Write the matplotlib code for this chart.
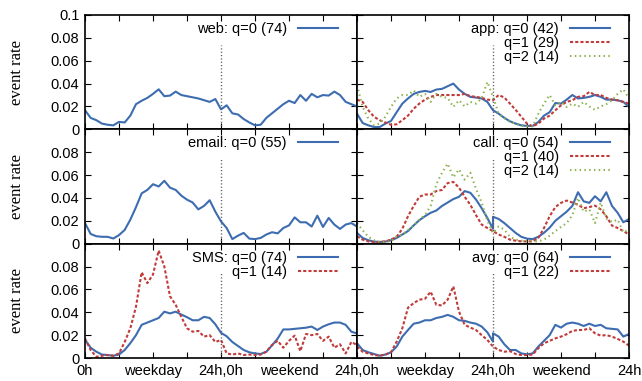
import numpy as np
import matplotlib
matplotlib.use('Agg')
import matplotlib.pyplot as plt

# hours: weekday 0..24, then weekend 24..48 (allows the jump at 24h)
hours = list(range(0, 25)) + list(range(24, 49))

web_q0 = [0.0167, 0.010, 0.008, 0.005, 0.004, 0.0035, 0.0065, 0.006, 0.012, 0.022, 0.025, 0.0275, 0.031,
          0.035, 0.029, 0.0295, 0.033, 0.030, 0.029, 0.028, 0.027, 0.0255, 0.024, 0.0265, 0.0175,
          0.0175, 0.021, 0.014, 0.013, 0.009, 0.006, 0.0035, 0.004, 0.010, 0.014, 0.018, 0.022, 0.025,
          0.023, 0.030, 0.025, 0.031, 0.028, 0.030, 0.0295, 0.033, 0.030, 0.024, 0.022, 0.020]

email_q0 = [0.018, 0.0085, 0.0065, 0.006, 0.006, 0.0045, 0.0075, 0.012, 0.021, 0.032, 0.044, 0.047, 0.052,
            0.050, 0.055, 0.049, 0.047, 0.042, 0.0385, 0.036, 0.030, 0.033, 0.038, 0.028, 0.0195,
            0.0195, 0.0137, 0.004, 0.007, 0.0094, 0.0044, 0.004, 0.005, 0.008, 0.010, 0.009, 0.0137, 0.016,
            0.023, 0.0187, 0.0187, 0.015, 0.0245, 0.0146, 0.0225, 0.0167, 0.0129, 0.0167, 0.018, 0.015]

sms_q0 = [0.016, 0.009, 0.0055, 0.003, 0.0026, 0.002, 0.003, 0.007, 0.013, 0.020, 0.029, 0.031, 0.033,
          0.035, 0.0405, 0.039, 0.0405, 0.038, 0.0357, 0.033, 0.033, 0.036, 0.035, 0.0295, 0.022,
          0.022, 0.019, 0.014, 0.0105, 0.007, 0.005, 0.004, 0.0035, 0.0055, 0.011, 0.017, 0.025, 0.025,
          0.0255, 0.026, 0.0265, 0.0275, 0.0245, 0.0275, 0.0295, 0.031, 0.031, 0.029, 0.023, 0.0215]
sms_q1 = [0.017, 0.007, 0.001, 0.002, 0.0026, 0.002, 0.004, 0.014, 0.026, 0.045, 0.075, 0.0655, 0.073,
          0.094, 0.080, 0.054, 0.0465, 0.036, 0.026, 0.023, 0.0237, 0.0187, 0.020, 0.014, 0.0158,
          0.0158, 0.004, 0.003, 0.004, 0.0026, 0.003, 0.0026, 0.003, 0.0055, 0.0114, 0.015, 0.009, 0.015,
          0.0196, 0.006, 0.021, 0.020, 0.021, 0.015, 0.0187, 0.009, 0.012, 0.004, 0.014, 0.0114]

app_q0 = [0.0137, 0.0055, 0.0035, 0.002, 0.002, 0.005, 0.0073, 0.015, 0.0225, 0.027, 0.031, 0.0327, 0.0336,
          0.0327, 0.0348, 0.0354, 0.0377, 0.040, 0.0348, 0.031, 0.0284, 0.0278, 0.027, 0.024, 0.0167,
          0.0167, 0.0137, 0.010, 0.007, 0.005, 0.0035, 0.003, 0.003, 0.0064, 0.012, 0.015, 0.023, 0.0225,
          0.026, 0.030, 0.027, 0.0275, 0.0284, 0.030, 0.0284, 0.026, 0.026, 0.0254, 0.024, 0.0196]
app_q1 = [0.026, 0.024, 0.0167, 0.011, 0.008, 0.006, 0.004, 0.0044, 0.008, 0.012, 0.018, 0.0225, 0.026,
          0.0284, 0.030, 0.030, 0.030, 0.030, 0.030, 0.031, 0.029, 0.0284, 0.0275, 0.026, 0.0254,
          0.0254, 0.030, 0.0278, 0.0225, 0.017, 0.011, 0.005, 0.0026, 0.005, 0.0094, 0.012, 0.0167, 0.021,
          0.024, 0.0254, 0.0284, 0.029, 0.0327, 0.030, 0.030, 0.0275, 0.026, 0.0254, 0.024, 0.0225]
app_q2 = [0.0386, 0.0196, 0.0094, 0.0035, 0.005, 0.011, 0.0196, 0.027, 0.030, 0.030, 0.034, 0.0284, 0.031,
          0.024, 0.031, 0.0284, 0.0275, 0.0196, 0.0254, 0.020, 0.024, 0.0225, 0.027, 0.0415, 0.0284,
          0.0284, 0.0137, 0.010, 0.0064, 0.005, 0.003, 0.0026, 0.0026, 0.0137, 0.0225, 0.030, 0.021, 0.024,
          0.0196, 0.0225, 0.0196, 0.024, 0.020, 0.017, 0.020, 0.022, 0.0254, 0.031, 0.035, 0.027]

call_q0 = [0.0094, 0.005, 0.003, 0.0018, 0.0015, 0.0018, 0.003, 0.005, 0.008, 0.011, 0.016, 0.0205, 0.024,
           0.027, 0.029, 0.033, 0.036, 0.039, 0.041, 0.046, 0.0445, 0.0386, 0.031, 0.0225, 0.013,
           0.0235, 0.0216, 0.018, 0.0137, 0.0094, 0.006, 0.0044, 0.004, 0.006, 0.0095, 0.014, 0.020, 0.024,
           0.028, 0.033, 0.045, 0.037, 0.0357, 0.0415, 0.037, 0.045, 0.033, 0.027, 0.0187, 0.0216]
call_q1 = [0.0064, 0.0035, 0.002, 0.0015, 0.0015, 0.002, 0.0035, 0.006, 0.013, 0.024, 0.033, 0.041, 0.043,
           0.043, 0.046, 0.047, 0.053, 0.054, 0.049, 0.041, 0.034, 0.025, 0.0167, 0.0137, 0.011,
           0.011, 0.008, 0.006, 0.0035, 0.0026, 0.002, 0.002, 0.002, 0.005, 0.0137, 0.024, 0.032, 0.0357,
           0.0377, 0.036, 0.034, 0.031, 0.032, 0.0333, 0.030, 0.024, 0.0158, 0.0137, 0.011, 0.008]
call_q2 = [0.018, 0.0117, 0.006, 0.003, 0.0015, 0.0015, 0.002, 0.0064, 0.008, 0.012, 0.016, 0.021, 0.025,
           0.033, 0.052, 0.062, 0.070, 0.058, 0.065, 0.056, 0.062, 0.048, 0.036, 0.020, 0.0094,
           0.0094, 0.015, 0.0123, 0.006, 0.0035, 0.0026, 0.002, 0.002, 0.002, 0.0035, 0.007, 0.011, 0.0146,
           0.018, 0.025, 0.040, 0.028, 0.030, 0.018, 0.036, 0.022, 0.019, 0.021, 0.010, 0.012]

avg_q0 = [0.0129, 0.007, 0.005, 0.0035, 0.002, 0.003, 0.005, 0.010, 0.0187, 0.0245, 0.030, 0.031, 0.033,
          0.033, 0.035, 0.036, 0.0377, 0.036, 0.033, 0.0325, 0.031, 0.030, 0.0275, 0.0225, 0.0143,
          0.0216, 0.0187, 0.012, 0.007, 0.007, 0.004, 0.0032, 0.004, 0.010, 0.015, 0.020, 0.029, 0.0266,
          0.030, 0.031, 0.030, 0.028, 0.030, 0.028, 0.029, 0.026, 0.0255, 0.025, 0.0187, 0.021]
avg_q1 = [0.010, 0.0055, 0.004, 0.0026, 0.002, 0.003, 0.005, 0.0143, 0.026, 0.044, 0.048, 0.051, 0.0518,
          0.058, 0.0465, 0.046, 0.051, 0.0626, 0.0406, 0.029, 0.0266, 0.0245, 0.020, 0.0158, 0.010,
          0.010, 0.007, 0.0055, 0.006, 0.0035, 0.0026, 0.0026, 0.003, 0.0085, 0.0129, 0.015, 0.0172, 0.0187,
          0.0208, 0.0237, 0.0245, 0.0245, 0.026, 0.0216, 0.0196, 0.020, 0.0187, 0.0167, 0.0143, 0.0108]

panels = [
    ('web', [web_q0], [74]),
    ('app', [app_q0, app_q1, app_q2], [42, 29, 14]),
    ('email', [email_q0], [55]),
    ('call', [call_q0, call_q1, call_q2], [54, 40, 14]),
    ('SMS', [sms_q0, sms_q1], [74, 14]),
    ('avg', [avg_q0, avg_q1], [64, 22]),
]

colors = ['#3d6db0', '#c23b3b', '#8cb34e']
styles = [dict(linestyle='-'),
          dict(linestyle=(0, (1.5, 1.0))),
          dict(linestyle=(0, (0.7, 1.6)))]

plt.rcParams['font.family'] = 'Liberation Sans'
plt.rcParams['font.size'] = 10.5

fig, axes = plt.subplots(3, 2, figsize=(6.42, 3.81), dpi=100)
fig.subplots_adjust(left=85 / 642, right=629 / 642, top=1 - 15 / 381, bottom=1 - 358 / 381,
                    wspace=0, hspace=0)

xlabels = ['0h', '', 'weekday', '', '24h,0h', '', 'weekend', '', '24h,0h']

for i, (ax, (name, series, counts)) in enumerate(zip(axes.flat, panels)):
    row, col = divmod(i, 2)
    for q, (vals, n) in enumerate(zip(series, counts)):
        label = f'{name}: q={q} ({n})' if q == 0 else f'q={q} ({n})'
        ax.plot(hours, vals, color=colors[q], linewidth=1.5, label=label, **styles[q])
    ax.vlines(24, 0, 0.074, colors='#555555', linestyles=(0, (0.8, 1.6)), linewidth=1.0)

    ax.set_xlim(0, 48)
    ax.set_ylim(0, 0.1)
    ax.set_xticks(range(0, 49, 6))
    ax.set_yticks([0, 0.02, 0.04, 0.06, 0.08, 0.1])
    ax.tick_params(direction='in', length=4, width=0.8, top=True, right=True,
                   labelsize=10.5, pad=4)
    for s in ax.spines.values():
        s.set_linewidth(1.2)

    if col == 0:
        top = '0.1' if row == 0 else ''
        ax.set_yticklabels(['0', '0.02', '0.04', '0.06', '0.08', top])
        ax.set_ylabel('event rate', family='Liberation Serif', fontsize=12)
        ax.yaxis.set_label_coords(-0.222, 0.5)
    else:
        ax.set_yticklabels([])
    if row == 2:
        if col == 0:
            ax.set_xticklabels(xlabels)
        else:
            ax.set_xticklabels([''] + xlabels[1:-1] + ['24h'])
    else:
        ax.set_xticklabels([])

    ax.legend(loc='upper right', bbox_to_anchor=(1 - 19 / 272, 1 - 7 / 114), frameon=False,
              markerfirst=False, borderpad=0, borderaxespad=0, labelspacing=0.0,
              handlelength=2.75, handletextpad=0.75, fontsize=10.5)

plt.savefig('out.png', dpi=100)
